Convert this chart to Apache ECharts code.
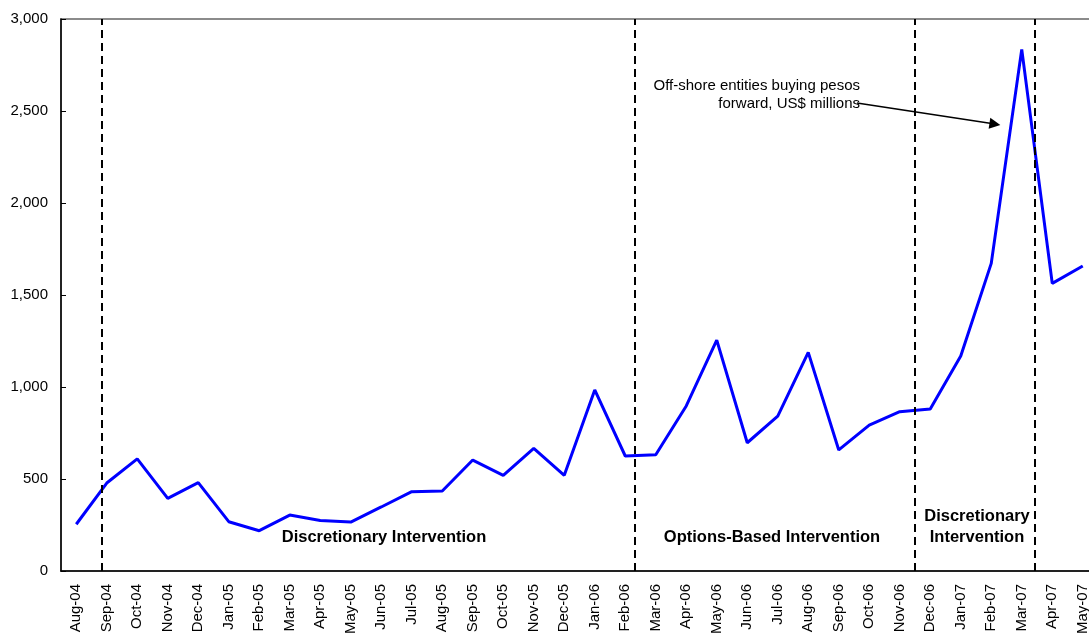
<!DOCTYPE html>
<html>
<head>
<meta charset="utf-8">
<script src="https://cdn.jsdelivr.net/npm/echarts@6/dist/echarts.min.js"></script>
<style>
html,body{margin:0;padding:0;background:#fff;}
#c{width:1089px;height:633px;}
</style>
</head>
<body>
<div id="c"></div>
<script>
// ---- data ----
const months = ['Aug-04','Sep-04','Oct-04','Nov-04','Dec-04',
  'Jan-05','Feb-05','Mar-05','Apr-05','May-05','Jun-05','Jul-05','Aug-05','Sep-05','Oct-05','Nov-05','Dec-05',
  'Jan-06','Feb-06','Mar-06','Apr-06','May-06','Jun-06','Jul-06','Aug-06','Sep-06','Oct-06','Nov-06','Dec-06',
  'Jan-07','Feb-07','Mar-07','Apr-07','May-07'];
const offshoreForward = [254,478,609,395,480,
  268,219,304,275,266,348,431,435,603,520,667,520,
  984,625,632,897,1255,697,842,1188,658,793,866,880,
  1168,1672,2835,1563,1658];
const yTicks = [0,500,1000,1500,2000,2500,3000];
// regime change dates, in category-index units
const regimeBreaks = [0.84, 18.32, 27.48, 31.42];
const regimeLabels = ['Discretionary Intervention','Options-Based Intervention','Discretionary','Intervention'];
const annotationLines = ['Off-shore entities buying pesos','forward, US$ millions'];
// arrow from annotation to series (category-index, value)
const arrowFrom = [25.6, 2543];
const arrowTo = [30.12, 2429];

const FONT = '"Liberation Sans", Arial, sans-serif';
const chart = echarts.init(document.getElementById('c'), null, {renderer:'canvas'});

const option = {
  animation: false,
  backgroundColor: '#fff',
  grid: {left: 61, top: 19, right: -9, bottom: 62, outerBoundsMode: 'none', containLabel: false,
    show: true, borderColor: '#666', borderWidth: 1.5, backgroundColor: 'transparent'},
  xAxis: [
    {
      type: 'category', data: months, boundaryGap: true,
      axisLine: {onZero: false, lineStyle: {color: '#000', width: 1.5}},
      axisTick: {inside: true, length: 5, interval: 0, lineStyle: {color: '#000', width: 1}},
      axisLabel: {interval: 0, rotate: 90, margin: 13, color: '#000', fontSize: 15, fontFamily: FONT, hideOverlap: false},
      splitLine: {show: false}
    },
    {type: 'value', min: -0.5, max: 33.5, show: false, axisLine: {onZero: false}}
  ],
  yAxis: {
    type: 'value', min: yTicks[0], max: yTicks[yTicks.length-1], interval: yTicks[1]-yTicks[0],
    axisLine: {show: true, onZero: false, lineStyle: {color: '#000', width: 1.5}},
    axisTick: {show: true, inside: true, length: 5, lineStyle: {color: '#000', width: 1}},
    axisLabel: {color: '#000', fontSize: 15, fontFamily: FONT, margin: 13,
      formatter: v => v.toLocaleString('en-US')},
    splitLine: {show: false}
  },
  series: [
    {
      type: 'line', data: offshoreForward, xAxisIndex: 0, yAxisIndex: 0,
      symbol: 'none', lineStyle: {color: '#0000ff', width: 3}, itemStyle: {color: '#0000ff'},
      silent: true, z: 3
    },
    {
      type: 'line', data: [], xAxisIndex: 1, yAxisIndex: 0, silent: true, z: 2,
      markLine: {
        silent: true, symbol: 'none', label: {show: false},
        lineStyle: {color: '#000', type: [8, 5], width: 2},
        emphasis: {disabled: true},
        data: regimeBreaks.map(v => ({xAxis: v}))
      }
    },
    {
      type: 'line', data: [], xAxisIndex: 1, yAxisIndex: 0, silent: true, z: 4,
      markLine: {
        silent: true, symbol: ['none', 'triangle'], symbolSize: [11, 11],
        label: {show: false},
        lineStyle: {color: '#000', type: 'solid', width: 1.5},
        emphasis: {disabled: true},
        data: [[{coord: arrowFrom}, {coord: arrowTo}]]
      }
    }
  ],
  graphic: [
    {type: 'text', x: 860, y: 86, silent: true, style: {text: annotationLines[0], font: '15px ' + FONT, fill: '#000', align: 'right', verticalAlign: 'middle', textAlign: 'right', textVerticalAlign: 'middle'}},
    {type: 'text', x: 860, y: 104, silent: true, style: {text: annotationLines[1], font: '15px ' + FONT, fill: '#000', align: 'right', verticalAlign: 'middle', textAlign: 'right', textVerticalAlign: 'middle'}},
    {type: 'text', x: 384, y: 537, silent: true, style: {text: regimeLabels[0], font: 'bold 16.5px ' + FONT, fill: '#000', align: 'center', verticalAlign: 'middle', textAlign: 'center', textVerticalAlign: 'middle'}},
    {type: 'text', x: 772, y: 537, silent: true, style: {text: regimeLabels[1], font: 'bold 16.5px ' + FONT, fill: '#000', align: 'center', verticalAlign: 'middle', textAlign: 'center', textVerticalAlign: 'middle'}},
    {type: 'text', x: 977, y: 516, silent: true, style: {text: regimeLabels[2], font: 'bold 16.5px ' + FONT, fill: '#000', align: 'center', verticalAlign: 'middle', textAlign: 'center', textVerticalAlign: 'middle'}},
    {type: 'text', x: 977, y: 537, silent: true, style: {text: regimeLabels[3], font: 'bold 16.5px ' + FONT, fill: '#000', align: 'center', verticalAlign: 'middle', textAlign: 'center', textVerticalAlign: 'middle'}}
  ]
};
chart.setOption(option);
</script>
</body>
</html>
